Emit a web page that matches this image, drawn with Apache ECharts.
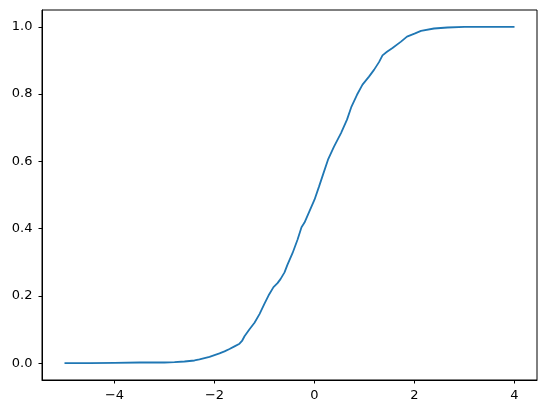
<!DOCTYPE html>
<html>
<head>
<meta charset="utf-8">
<script src="https://cdn.jsdelivr.net/npm/echarts@6/dist/echarts.min.js"></script>
<style>
html,body{margin:0;padding:0;background:#fff;}
#chart{width:547px;height:413px;}
</style>
</head>
<body>
<div id="chart"></div>
<script>
const xValues = [-5.0, -4.5, -4.0, -3.5, -3.0, -2.8, -2.6, -2.4, -2.3, -2.2, -2.1, -2.0, -1.9, -1.8, -1.7, -1.6, -1.5, -1.45, -1.4, -1.3, -1.2, -1.1, -1.0, -0.92, -0.82, -0.74, -0.68, -0.6, -0.54, -0.44, -0.34, -0.26, -0.2, -0.1, 0.0, 0.09, 0.18, 0.27, 0.39, 0.53, 0.65, 0.74, 0.85, 0.96, 1.09, 1.19, 1.29, 1.36, 1.45, 1.56, 1.73, 1.85, 2.0, 2.13, 2.39, 2.66, 3.0, 4.0];
const yValues = [0, 0, 0.001, 0.002, 0.002, 0.003, 0.005, 0.008, 0.011, 0.015, 0.019, 0.024, 0.029, 0.035, 0.042, 0.050, 0.058, 0.066, 0.080, 0.101, 0.120, 0.146, 0.177, 0.201, 0.226, 0.238, 0.250, 0.270, 0.293, 0.327, 0.367, 0.404, 0.418, 0.452, 0.486, 0.525, 0.565, 0.605, 0.644, 0.684, 0.724, 0.763, 0.798, 0.828, 0.852, 0.872, 0.895, 0.915, 0.926, 0.937, 0.956, 0.971, 0.980, 0.988, 0.995, 0.998, 1.0, 1.0];
const xTicks = [-4, -2, 0, 2, 4];
const yTicks = [0, 0.2, 0.4, 0.6, 0.8, 1.0];

const data = xValues.map((x, i) => [x, yValues[i]]);
const chart = echarts.init(document.getElementById('chart'), null, {renderer: 'canvas'});
const font = 'DejaVu Sans';
chart.setOption({
  animation: false,
  grid: {left: 42, right: 10, top: 10, bottom: 33, show: true, borderColor: '#000', borderWidth: 1, containLabel: false},
  xAxis: {
    type: 'value', min: -5.45, max: 4.45,
    axisLine: {show: true, onZero: false, lineStyle: {color: '#000', width: 1}},
    axisTick: {show: true, length: 3.5, customValues: xTicks, lineStyle: {color: '#000'}},
    axisLabel: {customValues: xTicks, margin: 9.5, color: '#000', fontFamily: font, fontSize: 13,
      formatter: v => String(v).replace('-', '\u2212')},
    splitLine: {show: false}
  },
  yAxis: {
    type: 'value', min: -0.05, max: 1.05,
    axisLine: {show: true, onZero: false, lineStyle: {color: '#000', width: 1}},
    axisTick: {show: true, length: 3.5, customValues: yTicks, lineStyle: {color: '#000'}},
    axisLabel: {customValues: yTicks, margin: 9.5, color: '#000', fontFamily: font, fontSize: 13,
      formatter: v => v.toFixed(1)},
    splitLine: {show: false}
  },
  series: [{
    type: 'line', data: data, showSymbol: false, smooth: false,
    lineStyle: {color: '#1f77b4', width: 1.8},
    itemStyle: {color: '#1f77b4'}
  }]
});
</script>
</body>
</html>
